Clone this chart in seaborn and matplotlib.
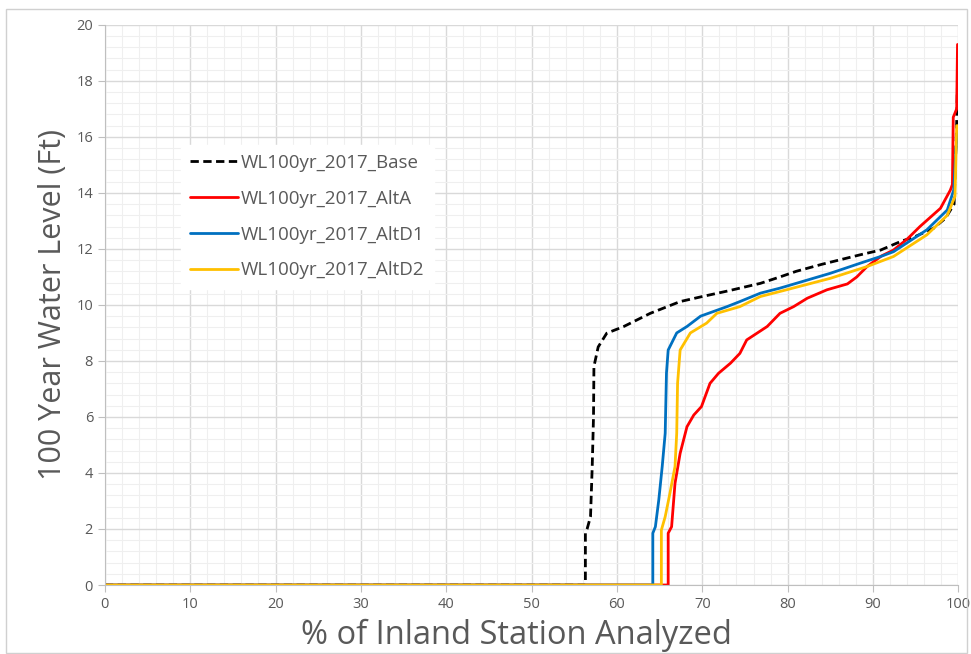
import seaborn as sns
import pandas as pd
import matplotlib.pyplot as plt
from matplotlib.ticker import MultipleLocator
from matplotlib.patches import Rectangle

base_x = [0, 56.3, 56.3, 56.5, 56.9, 57.1, 57.25, 57.3, 57.8, 58.8, 60.8, 63.9, 67.4,
          70, 73, 76.8, 79.1, 81, 84, 88.5, 90.9, 93.2, 95, 97.1, 98.5, 99.5, 99.8, 99.9]
base_y = [0, 0, 1.85, 2.0, 2.44, 4.23, 6.0, 7.8, 8.5, 8.99, 9.23, 9.7, 10.12,
          10.3, 10.5, 10.77, 11.0, 11.2, 11.45, 11.79, 11.96, 12.26, 12.45, 12.74, 13.1, 13.6, 16.5, 18.0]

alta_x = [0, 66.0, 66.0, 66.4, 66.8, 67.4, 68.2, 69.0, 69.9, 70.9, 71.9, 73.3, 74.4, 75.2,
          77.6, 79.1, 80.7, 82.3, 84.6, 87, 88.1, 89.3, 91, 92.4, 94, 95.5, 97.9, 99.06, 99.3,
          99.4, 99.8, 99.9]
alta_y = [0, 0, 1.85, 2.08, 3.63, 4.7, 5.65, 6.07, 6.37, 7.2, 7.56, 7.92, 8.27, 8.75,
          9.23, 9.7, 9.94, 10.24, 10.54, 10.75, 11.0, 11.37, 11.75, 11.96, 12.35, 12.8, 13.45, 14.1, 14.3,
          16.7, 17.0, 19.3]

altd1_x = [0, 64.2, 64.2, 64.5, 64.9, 65.3, 65.65, 65.8, 66.0, 67.0, 68.2, 69.8, 72.9, 74.4,
           76.8, 79.1, 85, 88.5, 90.9, 92.4, 96.3, 98.7, 99.45, 99.7, 99.9]
altd1_y = [0, 0, 1.85, 2.08, 3.04, 4.23, 5.42, 7.57, 8.39, 9.0, 9.23, 9.6, 9.94, 10.12,
           10.42, 10.6, 11.13, 11.49, 11.73, 11.9, 12.68, 13.39, 14.1, 15.5, 16.2]

altd2_x = [0, 65.2, 65.2, 65.65, 66.2, 66.8, 67.0, 67.1, 67.4, 68.6, 70.5, 71.7, 74.4, 75.2,
           76.8, 79.1, 85, 89.3, 92.4, 96.3, 98.7, 99.6, 99.8, 99.9]
altd2_y = [0, 0, 1.96, 2.44, 3.27, 4.23, 5.42, 7.2, 8.39, 9.0, 9.35, 9.7, 9.94, 10.06,
           10.3, 10.48, 10.95, 11.37, 11.73, 12.5, 13.2, 13.87, 16.4, 16.4]

names = ['WL100yr_2017_Base', 'WL100yr_2017_AltA', 'WL100yr_2017_AltD1', 'WL100yr_2017_AltD2']
colors = ['#000000', '#FF0000', '#0070C0', '#FFC000']
series = [(base_x, base_y), (alta_x, alta_y), (altd1_x, altd1_y), (altd2_x, altd2_y)]

sns.set_style('white')
plt.rcParams['font.family'] = ['Open Sans', 'DejaVu Sans']

fig = plt.figure(figsize=(9.71, 6.54), dpi=100)
ax = fig.add_axes([0.108, 0.1055, 0.879, 0.8565])
fig.patches.append(Rectangle((0.006, 0.002), 0.99, 0.985, transform=fig.transFigure,
                             fill=False, edgecolor='#d0d0d0', linewidth=1))

for (xs, ys), name, c in zip(series, names, colors):
    df = pd.DataFrame({'x': xs, 'y': ys})
    sns.lineplot(data=df, x='x', y='y', ax=ax, sort=False, estimator=None,
                 color=c, linewidth=2.0, label=name,
                 linestyle=(0, (3, 1.6)) if name.endswith('Base') else '-')

ax.set_xlim(0, 100)
ax.set_ylim(0, 20)
ax.xaxis.set_major_locator(MultipleLocator(10))
ax.xaxis.set_minor_locator(MultipleLocator(2))
ax.yaxis.set_major_locator(MultipleLocator(2))
ax.yaxis.set_minor_locator(MultipleLocator(0.4))
ax.grid(which='major', color='#d9d9d9', linewidth=1)
ax.grid(which='minor', color='#efefef', linewidth=0.8)
ax.set_axisbelow(True)

for s in ['top', 'right']:
    ax.spines[s].set_visible(False)
for s in ['left', 'bottom']:
    ax.spines[s].set_color('#bfbfbf')
ax.tick_params(axis='both', which='major', labelsize=10.5, labelcolor='#595959',
               color='#bfbfbf', length=5, direction='out')
ax.tick_params(axis='both', which='minor', length=0)
ax.tick_params(axis='x', bottom=True)
ax.tick_params(axis='y', left=True)

ax.set_xlabel('% of Inland Station Analyzed', fontsize=23.5, color='#595959', labelpad=5)
ax.xaxis.label.set_x(0.482)
ax.set_ylabel('100 Year Water Level (Ft)', fontsize=22, color='#595959', labelpad=6)

leg = ax.legend(loc='upper left', bbox_to_anchor=(0.078, 0.803), frameon=True,
                fontsize=13.5, labelcolor='#595959', handlelength=2.56,
                labelspacing=0.95, borderpad=0.5, handletextpad=0.15)
leg.get_frame().set_facecolor('white')
leg.get_frame().set_edgecolor('white')
leg.get_frame().set_alpha(1)

fig.savefig('out.png', dpi=100)
